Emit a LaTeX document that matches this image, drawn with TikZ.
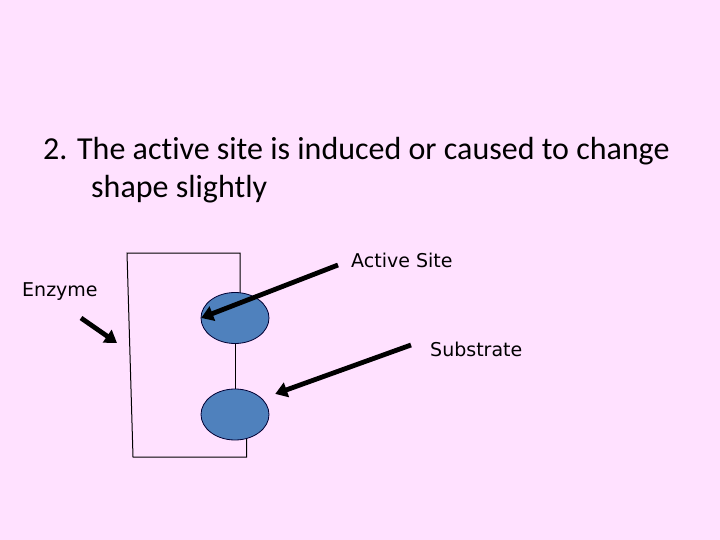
\documentclass[tikz,border=0pt]{standalone}
\usepackage{fontspec}
\setmainfont{Carlito}[Ligatures=NoCommon]
\newfontfamily\labelfont{DejaVu Sans}
\usetikzlibrary{arrows.meta}
\definecolor{bgpink}{HTML}{FFE1FF}
\definecolor{blobblue}{HTML}{4F81BD}
\begin{document}
\begin{tikzpicture}[x=1pt,y=-1pt,
  outline/.style={draw=black,line width=1pt},
  pointer/.style={line width=4.8pt,-{Triangle[length=12pt,width=15pt]}},
  lbl/.style={anchor=base west,inner sep=0pt,font=\labelfont\fontsize{19}{22}\selectfont},
  ttl/.style={anchor=base west,inner sep=0pt,font=\fontsize{32}{38}\selectfont}]
\fill[bgpink] (0,0) rectangle (720,540);
\useasboundingbox (0,0) rectangle (720,540);
% title
\node[ttl] (t1) at (43,160) {2. The active site is induced or caused to change};
\node[ttl] (t2) at (91,197) {shape slightly};
% enzyme outline
\coordinate (tl) at (127,253);
\coordinate (tr) at (240,253);
\coordinate (trb) at (240,293);
\coordinate (mid1) at (235,343);
\coordinate (mid2) at (235,389);
\coordinate (brt) at (246.5,439);
\coordinate (br) at (246.5,457);
\coordinate (bl) at (133,457);
\draw[outline] (trb) -- (tr) -- (tl) -- (bl) -- (br) -- (brt);
\draw[outline] (mid1) -- (mid2);
\fill[blobblue,draw=black!80!blue,line width=0.8pt] (235,318) ellipse [x radius=34, y radius=25.5];
\node[inner sep=0pt,minimum size=0pt] (site) at (201,318) {};
\fill[blobblue,draw=black!80!blue,line width=0.8pt] (235,414.5) ellipse [x radius=34, y radius=25.5];
\node[inner sep=0pt,minimum size=0pt] (sub) at (275,394) {};
% labels
\node[lbl] (las) at (351,267.5) {Active Site};
\node[lbl] (len) at (22,296) {Enzyme};
\node[lbl] (lsu) at (430,356.5) {Substrate};
% pointers
\coordinate (a1s) at (338,265);
\coordinate (a2s) at (411,345);
\coordinate (a3s) at (81,318);
\coordinate (a3e) at (117,343);
\draw[pointer] (a1s) -- (site);
\draw[pointer] (a2s) -- (sub);
\draw[pointer] (a3s) -- (a3e);
\end{tikzpicture}
\end{document}
